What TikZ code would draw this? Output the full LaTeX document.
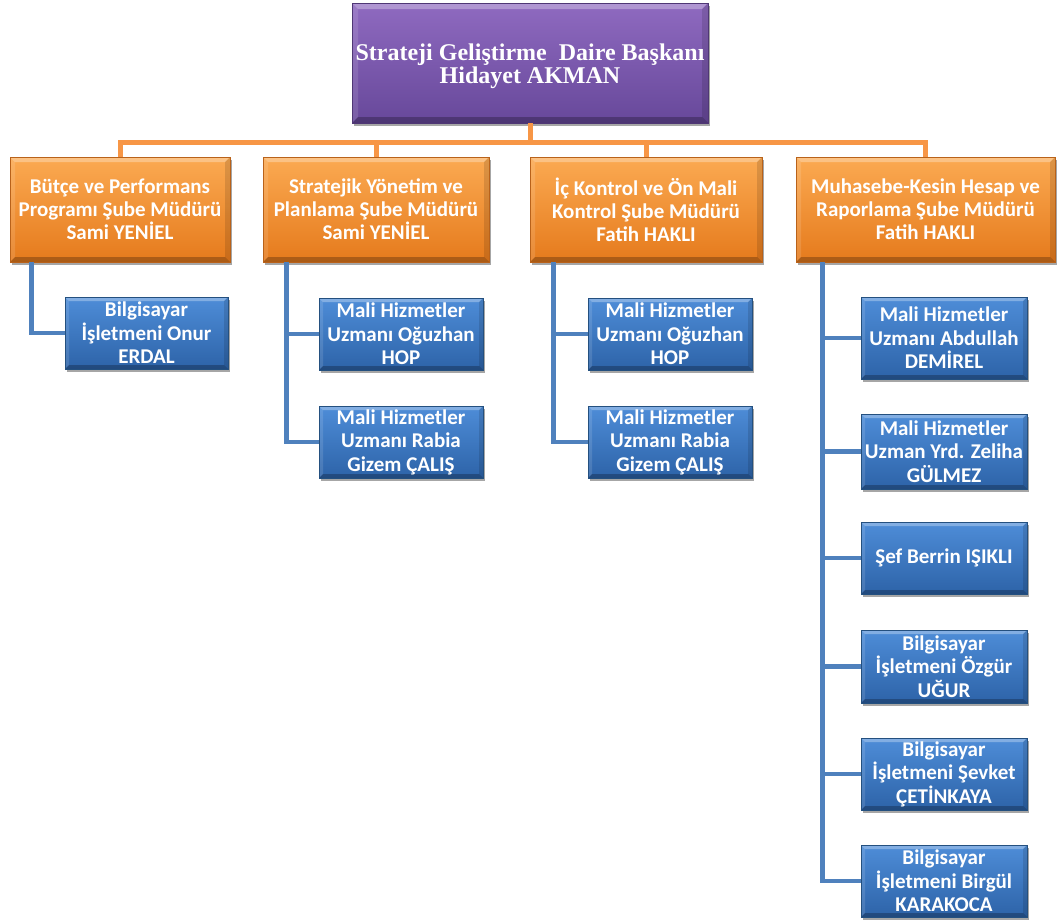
\documentclass[tikz,border=0pt]{standalone}
\usepackage{fontspec}
\setmainfont{Carlito}
\newfontfamily\topfont{Liberation Serif}
\usetikzlibrary{shadows}
\definecolor{orTop}{HTML}{FBAA52}
\definecolor{orBot}{HTML}{E57A1C}
\definecolor{orEdge}{HTML}{B9621A}
\definecolor{orLine}{HTML}{F79646}
\definecolor{blTop}{HTML}{4E8DD8}
\definecolor{blBot}{HTML}{2D63A8}
\definecolor{blEdge}{HTML}{24507F}
\definecolor{blLine}{HTML}{4F81BD}
\definecolor{puTop}{HTML}{8F6AC0}
\definecolor{puBot}{HTML}{67489A}
\definecolor{puEdge}{HTML}{4F3775}
\tikzset{
  bevel/.style={path picture={
    \fill[white,opacity=0.30] (path picture bounding box.north west) -- (path picture bounding box.north east)
      -- ([shift={(-#1,-#1)}]path picture bounding box.north east) -- ([shift={(#1,-#1)}]path picture bounding box.north west) -- cycle;
    \fill[white,opacity=0.12] (path picture bounding box.north west) -- ([shift={(#1,-#1)}]path picture bounding box.north west)
      -- ([shift={(#1,#1)}]path picture bounding box.south west) -- (path picture bounding box.south west) -- cycle;
    \fill[black,opacity=0.12] (path picture bounding box.north east) -- ([shift={(-#1,-#1)}]path picture bounding box.north east)
      -- ([shift={(-#1,#1)}]path picture bounding box.south east) -- (path picture bounding box.south east) -- cycle;
    \fill[black,opacity=0.25] (path picture bounding box.south west) -- (path picture bounding box.south east)
      -- ([shift={(-#1,#1)}]path picture bounding box.south east) -- ([shift={(#1,#1)}]path picture bounding box.south west) -- cycle;
  }},
  basebox/.style={rectangle, inner sep=0pt, align=center, text=white,
    drop shadow={shadow xshift=1.5pt, shadow yshift=-2.5pt, opacity=0.35, fill=black}},
  purplebox/.style={basebox, top color=puTop, bottom color=puBot, draw=puEdge, line width=0.6pt, bevel=6pt,
    font=\topfont\bfseries\fontsize{24}{23}\selectfont},
  orangebox/.style={basebox, top color=orTop, bottom color=orBot, draw=orEdge, line width=0.6pt, bevel=5pt,
    minimum height=105pt, font=\bfseries\fontsize{21}{23}\selectfont},
  bluebox/.style={basebox, top color=blTop, bottom color=blBot, draw=blEdge, line width=0.6pt, bevel=4pt,
    font=\bfseries\fontsize{21}{23.5}\selectfont},
  oline/.style={draw=orLine, line width=5pt},
  bline/.style={draw=blLine, line width=4.5pt},
}
\begin{document}
\begin{tikzpicture}[x=1pt,y=-1pt]
\useasboundingbox (0,0) rectangle (1057,921);

% top
\node[purplebox, minimum width=356pt, minimum height=120pt] (top) at (530,63)
  {\raisebox{-4pt}[\height][\depth]{\begin{tabular}{@{}c@{}}Strateji Geliştirme~ Daire Başkanı\\Hidayet AKMAN\end{tabular}}};

% managers
\node[orangebox, minimum width=220pt] (o1) at (120,209.5) {Bütçe ve Performans\\Programı Şube Müdürü\\Sami YENİEL};
\node[orangebox, minimum width=226pt] (o2) at (376,209.5) {Stratejik Yönetim ve\\Planlama Şube Müdürü\\Sami YENİEL};
\node[orangebox, minimum width=232pt] (o3) at (646,209.5) {İç Kontrol ve Ön Mali\\Kontrol Şube Müdürü\\Fatih HAKLI};
\node[orangebox, minimum width=259pt] (o4) at (925.5,209.5) {Muhasebe-Kesin Hesap ve\\Raporlama Şube Müdürü\\Fatih HAKLI};

% staff
\node[bluebox, minimum width=163pt, minimum height=72pt] (b1) at (146.5,333) {Bilgisayar\\İşletmeni Onur\\ERDAL};

\node[bluebox, minimum width=164pt, minimum height=72pt] (b2a) at (401,334) {Mali Hizmetler\\Uzmanı Oğuzhan\\HOP};
\node[bluebox, minimum width=164pt, minimum height=72pt] (b2b) at (401,442) {Mali Hizmetler\\Uzmanı Rabia\\Gizem ÇALIŞ};

\node[bluebox, minimum width=164pt, minimum height=72pt] (b3a) at (670,334) {Mali Hizmetler\\Uzmanı Oğuzhan\\HOP};
\node[bluebox, minimum width=164pt, minimum height=72pt] (b3b) at (670,442) {Mali Hizmetler\\Uzmanı Rabia\\Gizem ÇALIŞ};

\node[bluebox, minimum width=166pt, minimum height=82pt] (b4a) at (944,338) {Mali Hizmetler\\Uzmanı Abdullah\\DEMİREL};
\node[bluebox, minimum width=166pt, minimum height=75pt] (b4b) at (944,451.5) {Mali Hizmetler\\Uzman Yrd. Zeliha\\GÜLMEZ};
\node[bluebox, minimum width=166pt, minimum height=72pt] (b4c) at (944,558) {Şef Berrin IŞIKLI};
\node[bluebox, minimum width=166pt, minimum height=73pt] (b4d) at (944,666.5) {Bilgisayar\\İşletmeni Özgür\\UĞUR};
\node[bluebox, minimum width=166pt, minimum height=72pt] (b4e) at (944,774) {Bilgisayar\\İşletmeni Şevket\\ÇETİNKAYA};
\node[bluebox, minimum width=166pt, minimum height=72pt] (b4f) at (944,881) {Bilgisayar\\İşletmeni Birgül\\KARAKOCA};

% orange connectors
\coordinate (bus) at ([yshift=-19pt]top.south);
\draw[oline] (top.south) -- (bus);
\draw[oline] (o1.north) |- (bus) -| (o4.north);
\draw[oline] (o2.north) -- (o2.north |- bus);
\draw[oline] (o3.north) -- (o3.north |- bus);

% blue connectors
\coordinate (v1) at ([xshift=22pt]o1.south west);
\coordinate (v2) at ([xshift=24pt]o2.south west);
\coordinate (v3) at ([xshift=24pt]o3.south west);
\coordinate (v4) at ([xshift=27pt]o4.south west);
\draw[bline] (v1) |- (b1.west);
\draw[bline] (v2) |- (b2b.west);
\draw[bline] (b2a.west) -- (b2a.west -| v2);
\draw[bline] (v3) |- (b3b.west);
\draw[bline] (b3a.west) -- (b3a.west -| v3);
\draw[bline] (v4) |- (b4f.west);
\foreach \n in {b4a,b4b,b4c,b4d,b4e}
  \draw[bline] (\n.west) -- (\n.west -| v4);
\end{tikzpicture}
\end{document}
